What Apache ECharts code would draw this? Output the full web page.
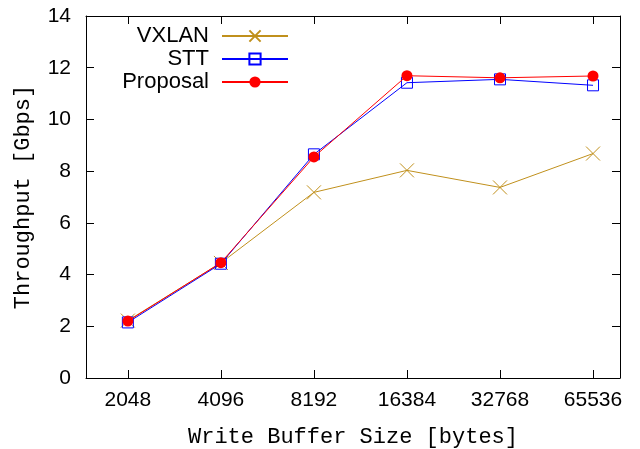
<!DOCTYPE html>
<html>
<head>
<meta charset="utf-8">
<script src="https://cdn.jsdelivr.net/npm/echarts@6/dist/echarts.min.js"></script>
<style>
html,body{margin:0;padding:0;background:#fff;}
#chart{width:640px;height:449px;}
</style>
</head>
<body>
<div id="chart"></div>
<script>
const categories = ['2048', '4096', '8192', '16384', '32768', '65536'];
const vxlan = [2.22, 4.45, 7.18, 8.03, 7.37, 8.68];
const stt = [2.15, 4.42, 8.65, 11.42, 11.55, 11.32];
const proposal = [2.2, 4.46, 8.55, 11.69, 11.61, 11.68];
const yTicks = [0, 2, 4, 6, 8, 10, 12, 14];

const colVx = '#c0901c', colStt = '#0000ff', colProp = '#ff0000';
const sans = 'Liberation Sans';
const mono = 'Liberation Mono';

function pts(arr) { return arr.map((v, i) => [i, v]); }

const catIdx = categories.map((c, i) => i);

const chart = echarts.init(document.getElementById('chart'), null, {renderer: 'canvas'});
const xCommon = {
  type: 'value', min: -0.45, max: 5.29,
  splitLine: {show: false},
  axisLine: {show: true, onZero: false, lineStyle: {color: '#000', width: 1}},
  axisTick: {show: true, inside: true, length: 8, customValues: catIdx, lineStyle: {color: '#000'}},
};
chart.setOption({
  animation: false,
  grid: {left: 86, top: 16, right: 20, bottom: 71, outerBoundsMode: 'none', containLabel: false},
  legend: {
    orient: 'vertical', align: 'right', right: 351, top: 25, padding: 0,
    itemWidth: 66, itemHeight: 14, itemGap: 1,
    textStyle: {fontFamily: sans, fontSize: 22, color: '#000', lineHeight: 22, padding: [0, 8, 0, 0]},
    data: ['VXLAN', 'STT', 'Proposal']
  },
  xAxis: [
    Object.assign({}, xCommon, {
      position: 'bottom',
      name: 'Write Buffer Size [bytes]', nameLocation: 'middle', nameGap: 48,
      nameTextStyle: {fontFamily: mono, fontSize: 22, color: '#000'},
      axisLabel: {customValues: catIdx, formatter: v => categories[Math.round(v)], fontFamily: sans, fontSize: 21, color: '#000', margin: 12}
    }),
    Object.assign({}, xCommon, {position: 'top', axisLabel: {show: false}})
  ],
  yAxis: [
    {
      type: 'value', min: 0, max: 14, interval: 2,
      name: 'Throughput [Gbps]', nameLocation: 'middle', nameGap: 52,
      nameTextStyle: {fontFamily: mono, fontSize: 22, color: '#000'},
      splitLine: {show: false},
      axisLine: {show: true, onZero: false, lineStyle: {color: '#000'}},
      axisTick: {show: true, inside: true, length: 8, lineStyle: {color: '#000'}},
      axisLabel: {fontFamily: sans, fontSize: 21, color: '#000', margin: 15, formatter: v => String(v)}
    },
    {
      type: 'value', min: 0, max: 14, interval: 2, position: 'right',
      splitLine: {show: false},
      axisLine: {show: true, onZero: false, lineStyle: {color: '#000'}},
      axisTick: {show: true, inside: true, length: 8, lineStyle: {color: '#000'}},
      axisLabel: {show: false}
    }
  ],
  series: [
    {
      name: 'VXLAN', type: 'line', data: pts(vxlan),
      symbol: 'path://M0,0L10,10M10,0L0,10', symbolSize: 14,
      lineStyle: {color: colVx, width: 1},
      itemStyle: {color: 'none', borderColor: colVx, borderWidth: 1},
      z: 2
    },
    {
      name: 'STT', type: 'line', data: pts(stt),
      symbol: 'rect', symbolSize: 11,
      lineStyle: {color: colStt, width: 1},
      itemStyle: {color: 'rgba(0,0,0,0)', borderColor: colStt, borderWidth: 1},
      z: 3
    },
    {
      name: 'Proposal', type: 'line', data: pts(proposal),
      symbol: 'circle', symbolSize: 11,
      lineStyle: {color: colProp, width: 1},
      itemStyle: {color: colProp, borderWidth: 0},
      z: 4
    }
  ]
});
</script>
</body>
</html>
